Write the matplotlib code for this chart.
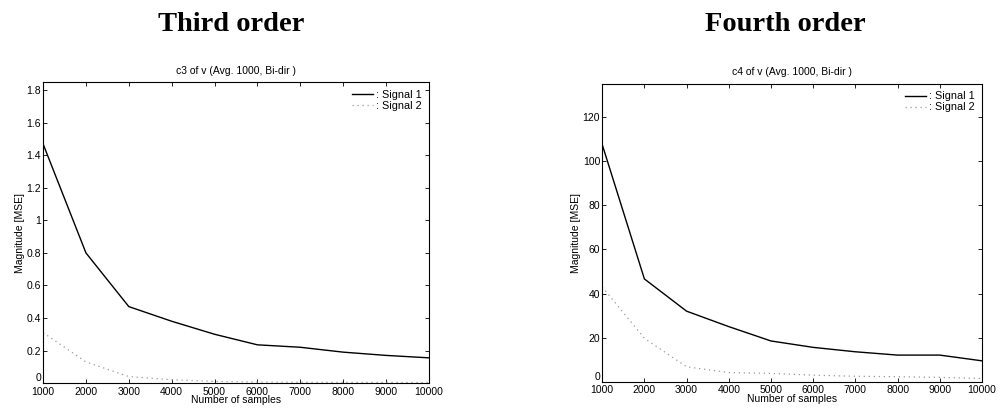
import numpy as np
import matplotlib.pyplot as plt

plt.rcParams['font.family'] = ['Liberation Sans', 'DejaVu Sans']

samples = [1000, 2000, 3000, 4000, 5000, 6000, 7000, 8000, 9000, 10000]

# third order (c3)
c3_sig1 = [1.47, 0.80, 0.47, 0.38, 0.30, 0.235, 0.22, 0.19, 0.17, 0.155]
c3_sig2 = [0.31, 0.13, 0.04, 0.02, 0.01, 0.006, 0.005, 0.004, 0.004, 0.003]

# fourth order (c4)
c4_sig1 = [107.5, 46.6, 32.0, 25.0, 18.5, 15.6, 13.6, 12.1, 12.1, 9.5]
c4_sig2 = [43.0, 19.7, 6.8, 4.2, 3.8, 3.0, 2.5, 2.3, 2.0, 1.5]

fig = plt.figure(figsize=(10.02, 4.15), dpi=100)

ax1 = fig.add_axes([0.043, 0.077, 0.385, 0.725])
ax2 = fig.add_axes([0.601, 0.080, 0.379, 0.718])


def draw(ax, s1, s2, ymax, yticks, title):
  ax.plot(samples, s1, color='black', lw=1.0, label=': Signal 1')
  ax.plot(samples, s2, color='#999999', lw=0.9, ls=(0, (1, 3)), label=': Signal 2')
  ax.set_xlim(1000, 10000)
  ax.set_ylim(0, ymax)
  ax.set_xticks(samples)
  ax.set_yticks(yticks)
  ax.set_yticklabels([('%g' % t) for t in yticks])
  ax.tick_params(direction='in', top=True, right=True, labelsize=7.5,
                 length=3, width=0.6, pad=1.5)
  ax.tick_params(axis='x', pad=2.5)
  # the "0" sits just above the corner, as in the original
  ax.get_yticklabels()[0].set_va('bottom')
  for sp in ax.spines.values():
    sp.set_linewidth(0.8)
  ax.set_xlabel('Number of samples', fontsize=7.5, labelpad=-1)
  ax.set_ylabel('Magnitude [MSE]', fontsize=7.5, labelpad=1)
  ax.set_title(title, fontsize=7.5, pad=6)
  ax.legend(loc='upper right', frameon=False, fontsize=7.8, handlelength=2.0,
            handletextpad=0.2, labelspacing=0.1, borderaxespad=0.3)


draw(ax1, c3_sig1, c3_sig2, 1.85, [0, 0.2, 0.4, 0.6, 0.8, 1, 1.2, 1.4, 1.6, 1.8],
     'c3 of v (Avg. 1000, Bi-dir )')
draw(ax2, c4_sig1, c4_sig2, 135, [0, 20, 40, 60, 80, 100, 120],
     'c4 of v (Avg. 1000, Bi-dir )')

fig.text(0.231, 0.97, 'Third order', ha='center', va='top', fontsize=20.5,
         fontweight='bold', family='Liberation Serif')
fig.text(0.784, 0.97, 'Fourth order', ha='center', va='top', fontsize=20.5,
         fontweight='bold', family='Liberation Serif')

fig.savefig('out.png', dpi=100)
